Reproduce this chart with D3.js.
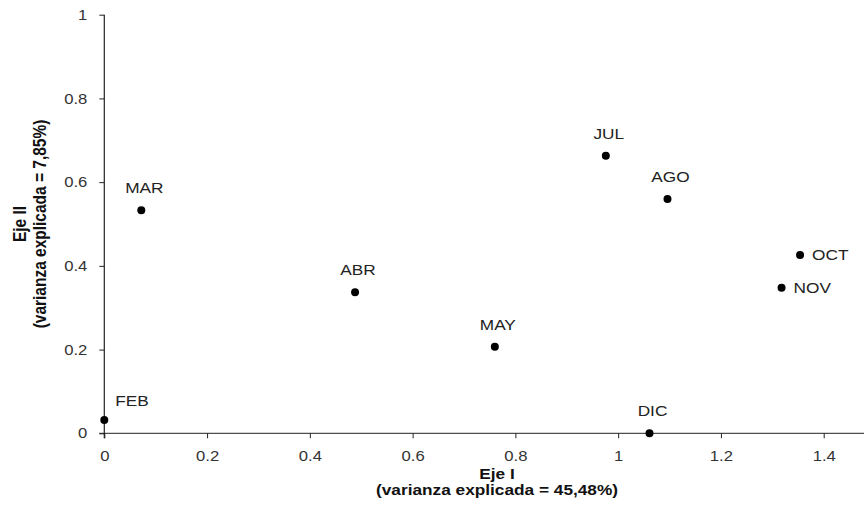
<!DOCTYPE html>
<html>
<head>
<meta charset="utf-8">
<script src="https://cdn.jsdelivr.net/npm/d3@7"></script>
<style>
  body { margin: 0; background: #fff; }
  svg text { font-family: "Liberation Sans", Arial, sans-serif; }
</style>
</head>
<body>
<svg id="chart" width="864" height="506"></svg>
<script>
// months and their coordinates on the two axes
const months = ["FEB", "MAR", "ABR", "MAY", "JUL", "AGO", "OCT", "NOV", "DIC"];
const ejeI  = [0.000, 0.072, 0.488, 0.760, 0.976, 1.096, 1.354, 1.318, 1.061];
const ejeII = [0.032, 0.533, 0.337, 0.207, 0.663, 0.560, 0.426, 0.348, 0.000];
// where each label sits relative to its dot
const labelSide = ["topright", "top", "top", "top", "top", "top", "right", "right", "top"];

const xTicks = [0, 0.2, 0.4, 0.6, 0.8, 1, 1.2, 1.4];
const yTicks = [0, 0.2, 0.4, 0.6, 0.8, 1];

const svg = d3.select("#chart");
const w = 864, h = 506;
const stretch = 1.15; // the original text is a bit wide

var xScale = d3.scaleLinear().domain([0, 1.4]).range([104.3, 823.7]);
var yScale = d3.scaleLinear().domain([0, 1]).range([433.3, 14.7]);

const ink = "#222";
const fmt = d => d === 0 || d === 1 ? d : d3.format(".1f")(d);

// x axis, line runs off the right edge
var xAxis = d3.axisBottom(xScale).tickValues(xTicks).tickFormat(fmt)
  .tickSizeInner(5).tickSizeOuter(0).tickPadding(12);

var gx = svg.append("g")
  .attr("transform", "translate(0," + yScale(0) + ")")
  .call(xAxis);
gx.select(".domain").remove();
gx.append("line")
  .attr("x1", xScale(0) - 5).attr("x2", w)
  .attr("stroke", ink).attr("stroke-width", 1);

// y axis
var yAxis = d3.axisLeft(yScale).tickValues(yTicks).tickFormat(fmt)
  .tickSizeInner(5).tickSizeOuter(0).tickPadding(12);

var gy = svg.append("g")
  .attr("transform", "translate(" + xScale(0) + ",0)")
  .call(yAxis);
gy.select(".domain").remove();
gy.append("line")
  .attr("y1", yScale(1)).attr("y2", yScale(0) + 5)
  .attr("stroke", ink).attr("stroke-width", 1.2);

[gx, gy].forEach(g => {
  g.selectAll(".tick line").attr("stroke", ink);
  g.selectAll(".tick text").attr("fill", "#333").style("font-size", "14.5px")
    .style("font-family", "'Liberation Sans', Arial, sans-serif");
});
// widen tick labels around their anchor point
gx.selectAll(".tick text").attr("transform", "scale(" + stretch + ",1)");
gy.selectAll(".tick text").attr("transform", "scale(" + stretch + ",1)")
  .attr("x", -17 / stretch);

// points
var data = months.map((m, i) => ({ name: m, x: ejeI[i], y: ejeII[i], side: labelSide[i] }));

svg.selectAll("circle.pt")
  .data(data).enter()
  .append("circle")
  .attr("class", "pt")
  .attr("cx", d => xScale(d.x))
  .attr("cy", d => yScale(d.y))
  .attr("r", 4)
  .attr("fill", "#000");

function labelPos(d) {
  let px = xScale(d.x), py = yScale(d.y);
  if (d.side === "right") return [px + 12, py + 5.5];
  if (d.side === "topright") return [px + 11, py - 14];
  return [px + 3, py - 17];
}

svg.selectAll("text.lbl")
  .data(data).enter()
  .append("text")
  .attr("class", "lbl")
  .attr("transform", d => "translate(" + labelPos(d) + ") scale(" + stretch + ",1)")
  .attr("text-anchor", d => d.side === "top" ? "middle" : "start")
  .attr("fill", "#222")
  .style("font-size", "15px")
  .text(d => d.name);

// axis titles
var xt = svg.append("text")
  .attr("transform", "translate(497,479) scale(" + stretch + ",1)")
  .attr("text-anchor", "middle")
  .attr("fill", "#111")
  .style("font-size", "15px").style("font-weight", "bold");
xt.append("tspan").attr("x", 0).text("Eje I");
xt.append("tspan").attr("x", 0).attr("dy", 16).text("(varianza explicada = 45,48%)");

var yt = svg.append("text")
  .attr("transform", "translate(26," + yScale(0.5) + ") scale(" + stretch + ",1) rotate(-90)")
  .attr("text-anchor", "middle")
  .attr("fill", "#111")
  .style("font-size", "15.5px").style("font-weight", "bold");
yt.append("tspan").attr("x", 0).text("Eje II");
yt.append("tspan").attr("x", 0).attr("dy", 17.5).text("(varianza explicada = 7,85%)");
</script>
</body>
</html>
